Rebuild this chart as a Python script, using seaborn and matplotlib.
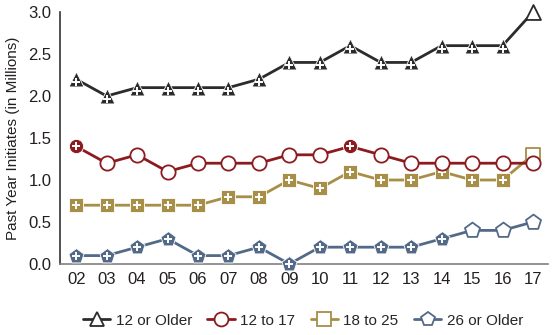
import matplotlib
matplotlib.use("Agg")
import matplotlib.pyplot as plt
from matplotlib.lines import Line2D
import seaborn as sns
import pandas as pd
import numpy as np

years = ["02", "03", "04", "05", "06", "07", "08", "09", "10", "11", "12", "13", "14", "15", "16", "17"]
age12plus = [2.2, 2.0, 2.1, 2.1, 2.1, 2.1, 2.2, 2.4, 2.4, 2.6, 2.4, 2.4, 2.6, 2.6, 2.6, 3.0]
age12to17 = [1.4, 1.2, 1.3, 1.1, 1.2, 1.2, 1.2, 1.3, 1.3, 1.4, 1.3, 1.2, 1.2, 1.2, 1.2, 1.2]
age18to25 = [0.7, 0.7, 0.7, 0.7, 0.7, 0.8, 0.8, 1.0, 0.9, 1.1, 1.0, 1.0, 1.1, 1.0, 1.0, 1.3]
age26plus = [0.1, 0.1, 0.2, 0.3, 0.1, 0.1, 0.2, 0.0, 0.2, 0.2, 0.2, 0.2, 0.3, 0.4, 0.4, 0.5]
# significance flags (filled marker with "+")
sig12plus = [1] * 15 + [0]
sig12to17 = [1, 0, 0, 0, 0, 0, 0, 0, 0, 1, 0, 0, 0, 0, 0, 0]
sig18to25 = [1] * 15 + [0]
sig26plus = [1] * 13 + [0, 0, 0]

labels = ["12 or Older", "12 to 17", "18 to 25", "26 or Older"]
colors = ["#2b2b2d", "#8c1b1f", "#a88f47", "#526a88"]
markers = ["^", "o", "s", "p"]
msizes = [115, 105, 100, 130]

sns.set_theme(style="white")
plt.rcParams["font.family"] = ["Liberation Sans", "DejaVu Sans"]

fig = plt.figure(figsize=(5.56, 3.35), dpi=100)
ax = fig.add_axes([0.108, 0.212, 0.878, 0.752])

x = np.arange(len(years))
series = [age12plus, age12to17, age18to25, age26plus]
sigs = [sig12plus, sig12to17, sig18to25, sig26plus]
order = [3, 2, 1, 0]
for k, i in enumerate(order):
    df = pd.DataFrame({"x": x, "y": series[i], "sig": sigs[i]})
    z = 2 + k * 3
    sns.lineplot(data=df, x="x", y="y", color=colors[i], lw=2, ax=ax, zorder=z)
    filled = df[df.sig == 1]
    opened = df[df.sig == 0]
    ax.scatter(filled.x, filled.y, marker=markers[i], s=msizes[i], color=colors[i],
               edgecolors="white", linewidths=0.6, zorder=z + 1, clip_on=False)
    ax.scatter(opened.x, opened.y, marker=markers[i], s=msizes[i], facecolor="white",
               edgecolors=colors[i], linewidths=1.3, zorder=z + 1, clip_on=False)
    yoff = -0.035 if markers[i] == "^" else 0.0
    ax.scatter(filled.x, filled.y + yoff, marker="+", s=36, color="white", linewidths=1.4,
               zorder=z + 2, clip_on=False)

ax.set_xlim(-0.53, 15.5)
ax.set_ylim(0, 3.0)
ax.set_xticks(x)
ax.set_xticklabels(years)
ax.set_yticks([0, 0.5, 1.0, 1.5, 2.0, 2.5, 3.0])
ax.set_yticklabels(["0.0", "0.5", "1.0", "1.5", "2.0", "2.5", "3.0"])
ax.tick_params(axis="both", labelsize=12, colors="#231f20", length=0, pad=6)
ax.set_xlabel("")
ax.set_ylabel("Past Year Initiates (in Millions)", fontsize=11, color="#231f20", labelpad=6)
for s in ["top", "right"]:
    ax.spines[s].set_visible(False)
ax.spines["left"].set_color("#333333")
ax.spines["bottom"].set_color("#808080")
ax.spines["left"].set_linewidth(1.2)
ax.spines["bottom"].set_linewidth(1.2)

handles = [Line2D([0], [0], color=colors[i], lw=2, marker=markers[i], markersize=10,
                  markerfacecolor="white", markeredgecolor=colors[i], markeredgewidth=1.3)
           for i in range(4)]
fig.legend(handles, labels, loc="center", bbox_to_anchor=(0.545, 0.043), ncol=4, frameon=False,
           fontsize=11, handlelength=1.8, handletextpad=0.35, columnspacing=1.0)

fig.savefig("out.png", dpi=100)
